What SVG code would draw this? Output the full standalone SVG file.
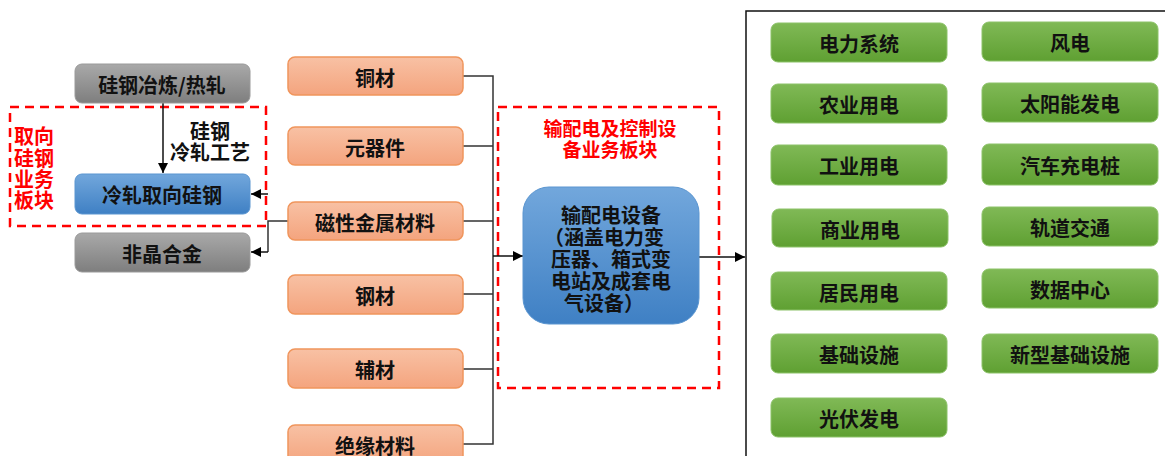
<svg xmlns="http://www.w3.org/2000/svg" width="1165" height="456" viewBox="0 0 1165 456">
<defs>
<linearGradient id="gGray" x1="0" y1="0" x2="0" y2="1"><stop offset="0" stop-color="#a9a9a9"/><stop offset="1" stop-color="#7e7e7e"/></linearGradient>
<linearGradient id="gBlue" x1="0" y1="0" x2="0" y2="1"><stop offset="0" stop-color="#72a7dc"/><stop offset="1" stop-color="#3f80c4"/></linearGradient>
<linearGradient id="gOrange" x1="0" y1="0" x2="0" y2="1"><stop offset="0" stop-color="#f8c1a4"/><stop offset="1" stop-color="#f4a47e"/></linearGradient>
<linearGradient id="gGreen" x1="0" y1="0" x2="0" y2="1"><stop offset="0" stop-color="#80b956"/><stop offset="1" stop-color="#5fa032"/></linearGradient>
<marker id="arr" viewBox="0 0 10 10" refX="10" refY="5" markerWidth="10" markerHeight="10" markerUnits="userSpaceOnUse" orient="auto"><path d="M0,0 L10,5 L0,10 z" fill="#000"/></marker>
</defs>
<style>
text{font-family:"Noto Sans CJK SC","Liberation Sans",sans-serif;font-weight:bold;font-size:20px;fill:#111;text-anchor:middle;dominant-baseline:central}
.gray{fill:url(#gGray);stroke:#9a9a9a;stroke-width:1}
.blue{fill:url(#gBlue);stroke:#5a95d0;stroke-width:1}
.orange{fill:url(#gOrange);stroke:#f0955c;stroke-width:1.5}
.green{fill:url(#gGreen);stroke:#8cc268;stroke-width:1}
.dash{fill:none;stroke:#ff0000;stroke-width:2.5;stroke-dasharray:9 6}
.red{fill:#ff0000}
.ln{fill:none;stroke:#333;stroke-width:1.5}
.ar{fill:none;stroke:#111;stroke-width:1.5;marker-end:url(#arr)}
</style>
<rect x="0" y="0" width="1165" height="456" fill="#fff"/>

<g id="zones">
<rect class="dash" x="10" y="107" width="256" height="119"/>
<text class="red" x="34" y="135">取向</text>
<text class="red" x="34" y="157">硅钢</text>
<text class="red" x="34" y="178">业务</text>
<text class="red" x="34" y="199">板块</text>
<rect class="dash" x="498" y="107" width="221" height="281"/>
<text class="red" x="610" y="127" style="font-size:19px">输配电及控制设</text>
<text class="red" x="610" y="148" style="font-size:19px">备业务板块</text>
<rect x="746" y="11" width="440" height="470" fill="none" stroke="#111" stroke-width="1.5"/>
</g>

<g id="connectors">
<path class="ar" d="M163,103 V173"/>
<text x="210" y="130">硅钢</text>
<text x="210" y="151">冷轧工艺</text>
<path class="ln" d="M288,221 H268 V252"/>
<path class="ar" d="M268,194 H251"/>
<path class="ar" d="M268,252 H251"/>
<path class="ln" d="M463,76 H493 V444 H463 M463,146 H493 M463,221 H493 M463,294 H493 M463,369 H493"/>
<path class="ar" d="M493,256 H523"/>
<path class="ar" d="M699,257 H745"/>
</g>

<g id="n-smelt"><rect class="gray" x="75" y="64" width="175" height="39" rx="7"/><text x="162" y="84">硅钢冶炼/热轧</text></g>
<g id="n-cold"><rect class="blue" x="75" y="174" width="175" height="40" rx="7"/><text x="162" y="194">冷轧取向硅钢</text></g>
<g id="n-amorph"><rect class="gray" x="75" y="233" width="175" height="39" rx="7"/><text x="162" y="253">非晶合金</text></g>

<g id="n-copper"><rect class="orange" x="288" y="57" width="175" height="38" rx="7"/><text x="375" y="77">铜材</text></g>
<g id="n-comp"><rect class="orange" x="288" y="127" width="175" height="38" rx="7"/><text x="375" y="147">元器件</text></g>
<g id="n-mag"><rect class="orange" x="288" y="202" width="175" height="38" rx="7"/><text x="375" y="222">磁性金属材料</text></g>
<g id="n-steel"><rect class="orange" x="288" y="275" width="175" height="39" rx="7"/><text x="375" y="295">钢材</text></g>
<g id="n-aux"><rect class="orange" x="288" y="349" width="175" height="39" rx="7"/><text x="375" y="369">辅材</text></g>
<g id="n-insul"><rect class="orange" x="288" y="425" width="175" height="39" rx="7"/><text x="375" y="445">绝缘材料</text></g>

<g id="n-equip"><rect class="blue" x="523" y="187" width="176" height="137" rx="26"/>
<text x="611" y="214">输配电设备</text>
<text x="604" y="236">（涵盖电力变</text>
<text x="611" y="258">压器、箱式变</text>
<text x="611" y="280">电站及成套电</text>
<text x="604" y="302">气设备）</text>
</g>

<g id="n-g1"><rect class="green" x="771" y="23" width="176" height="39" rx="7"/><text x="859" y="43">电力系统</text></g>
<g id="n-g2"><rect class="green" x="771" y="84" width="176" height="39" rx="7"/><text x="859" y="104">农业用电</text></g>
<g id="n-g3"><rect class="green" x="771" y="145" width="176" height="40" rx="7"/><text x="859" y="165">工业用电</text></g>
<g id="n-g4"><rect class="green" x="772" y="209" width="176" height="38" rx="7"/><text x="860" y="229">商业用电</text></g>
<g id="n-g5"><rect class="green" x="771" y="272" width="176" height="38" rx="7"/><text x="859" y="292">居民用电</text></g>
<g id="n-g6"><rect class="green" x="771" y="334" width="176" height="39" rx="7"/><text x="859" y="354">基础设施</text></g>
<g id="n-g7"><rect class="green" x="771" y="398" width="176" height="39" rx="7"/><text x="859" y="418">光伏发电</text></g>
<g id="n-h1"><rect class="green" x="982" y="22" width="176" height="39" rx="7"/><text x="1070" y="42">风电</text></g>
<g id="n-h2"><rect class="green" x="982" y="83" width="176" height="39" rx="7"/><text x="1070" y="103">太阳能发电</text></g>
<g id="n-h3"><rect class="green" x="982" y="144" width="176" height="41" rx="7"/><text x="1070" y="165">汽车充电桩</text></g>
<g id="n-h4"><rect class="green" x="982" y="207" width="176" height="39" rx="7"/><text x="1070" y="227">轨道交通</text></g>
<g id="n-h5"><rect class="green" x="982" y="269" width="176" height="39" rx="7"/><text x="1070" y="289">数据中心</text></g>
<g id="n-h6"><rect class="green" x="982" y="334" width="176" height="39" rx="7"/><text x="1070" y="354">新型基础设施</text></g>
</svg>
